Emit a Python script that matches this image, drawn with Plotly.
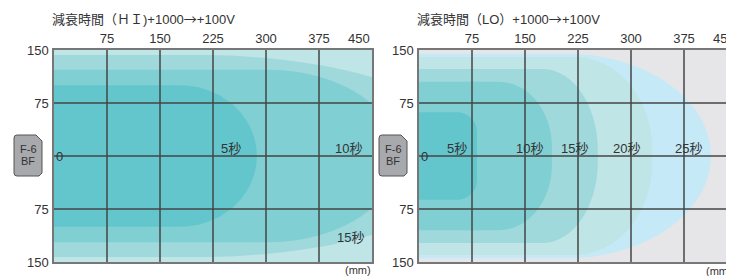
import numpy as np
import plotly.graph_objects as go

# page body margin offset (px)
OFF = 8
W, H = 734 - OFF, 276 - OFF

# ---- data ----
x_ticks = [75, 150, 225, 300, 375, 450]
x_tick_text = ["75", "150", "225", "300", "375", "450"]
y_ticks = [150, 75, -75, -150]
y_tick_text = ["150", "75", "75", "150"]
grid_y = [75, 0, -75]

# HI panel regions (outer -> inner), mm
hi_labels = ["15秒", "10秒", "5秒"]
hi_reach = [598, 487, 287]
hi_half = [143, 122, 100]
hi_rx = [395, 184, 109]
hi_ry = [143, 122, 100]
hi_label_x = [419, 417, 251]
hi_label_y = [-116, 11, 11]

# LO panel regions (outer -> inner), mm
lo_labels = ["25秒", "20秒", "15秒", "10秒", "5秒"]
lo_reach = [413, 330, 253, 188, 82]
lo_half = [145, 140, 123, 105, 62]
lo_rx = [206, 110, 78, 75, 28]
lo_ry = [145, 130, 115, 92, 28]
lo_label_x = [381, 294, 220, 157, 54]
lo_label_y = [11, 11, 11, 11, 11]

# ---- styles ----
hi_colors = ["#9fd9dc", "#80cfd3", "#63c6cd"]
lo_colors = ["#c6e9f7", "#c0e5e7", "#9fd9dc", "#80cfd3", "#63c6cd"]
HI_BG = "#c0e5e7"
LO_BG = "#e6e6e8"
GRID = "#444444"
TXT = "#333333"
FONT = "Liberation Sans, Noto Sans CJK JP, sans-serif"
ARROW = '<span style="font-family:Noto Sans CJK JP">→</span>'

def px_x(p):
    return (p - OFF) / W

def px_y(p):
    return 1 - (p - OFF) / H

def region(R, hh, rx, ry, n=60):
    cx = R - rx
    t1 = np.linspace(np.pi / 2, 0, n)
    t2 = np.linspace(0, -np.pi / 2, n)
    xs = [0] + list(cx + rx * np.cos(t1)) + list(cx + rx * np.cos(t2)) + [0]
    ys = [hh] + list((hh - ry) + ry * np.sin(t1)) + list(-(hh - ry) + ry * np.sin(t2)) + [-hh]
    return xs, ys

fig = go.Figure()

for R, hh, rx, ry, c in zip(hi_reach, hi_half, hi_rx, hi_ry, hi_colors):
    xs, ys = region(R, hh, rx, ry)
    fig.add_trace(go.Scatter(x=xs, y=ys, fill="toself", fillcolor=c, mode="none",
                             xaxis="x", yaxis="y", hoverinfo="skip", showlegend=False))
for R, hh, rx, ry, c in zip(lo_reach, lo_half, lo_rx, lo_ry, lo_colors):
    xs, ys = region(R, hh, rx, ry)
    fig.add_trace(go.Scatter(x=xs, y=ys, fill="toself", fillcolor=c, mode="none",
                             xaxis="x2", yaxis="y2", hoverinfo="skip", showlegend=False))

lo_xmax = (734 - 419) / 53 * 75
dom1 = [px_x(54), px_x(372)]
dom2 = [px_x(419), 1]

shapes = []
for xr, yr, xmax in (("x", "y", 450), ("x2", "y2", lo_xmax)):
    for xv in x_ticks:
        if 0 < xv < xmax:
            shapes.append(dict(type="line", xref=xr, yref=yr + " domain", x0=xv, x1=xv, y0=0, y1=1,
                               line=dict(color=GRID, width=1.5), layer="above"))
    for yv in grid_y:
        shapes.append(dict(type="line", xref=xr + " domain", yref=yr, x0=0, x1=1, y0=yv, y1=yv,
                           line=dict(color=GRID, width=1.5), layer="above"))

# F-6 BF sensor boxes
for bx in (14, 379):
    x0, x1, y0, y1 = bx, bx + 28, 135, 176
    path = (f"M {px_x(x0+3)},{px_y(y0)} L {px_x(x1-6)},{px_y(y0)} L {px_x(x1)},{px_y(y0+6)} "
            f"L {px_x(x1)},{px_y(y1-3)} L {px_x(x1-3)},{px_y(y1)} L {px_x(x0+3)},{px_y(y1)} "
            f"Q {px_x(x0)},{px_y(y1)} {px_x(x0)},{px_y(y1-3)} L {px_x(x0)},{px_y(y0+3)} "
            f"Q {px_x(x0)},{px_y(y0)} {px_x(x0+3)},{px_y(y0)} Z")
    shapes.append(dict(type="path", xref="paper", yref="paper", path=path,
                       fillcolor="#a8a9ac", line=dict(color="#555555", width=1)))

annotations = []
def note(x, y, text, size, xanchor="center", **kw):
    annotations.append(dict(x=x, y=y, xref="paper", yref="paper", text=text, showarrow=False,
                            xanchor=xanchor, yanchor="middle",
                            font=dict(size=size, color=TXT, family=FONT), **kw))

for bx in (14, 379):
    note(px_x(bx + 14), px_y(149), "F-6", 11)
    note(px_x(bx + 14), px_y(161), "BF", 11)

for lab, lx, ly in zip(hi_labels, hi_label_x, hi_label_y):
    annotations.append(dict(x=lx, y=ly, xref="x", yref="y", text=lab, showarrow=False,
                            xanchor="center", yanchor="middle",
                            font=dict(size=13, color=TXT, family=FONT)))
for lab, lx, ly in zip(lo_labels, lo_label_x, lo_label_y):
    annotations.append(dict(x=lx, y=ly, xref="x2", yref="y2", text=lab, showarrow=False,
                            xanchor="center", yanchor="middle",
                            font=dict(size=13, color=TXT, family=FONT)))

for xr, yr in (("x", "y"), ("x2", "y2")):
    annotations.append(dict(x=0, y=0, xref=xr, yref=yr, text="0", showarrow=False, xanchor="left",
                            yanchor="middle", font=dict(size=13, color=TXT, family=FONT)))

# last top label (450) sits right-aligned at the panel's 450 position
for dom, xmax in ((dom1, 450), (dom2, lo_xmax)):
    xp = dom[0] + x_ticks[-1] / xmax * (dom[1] - dom[0])
    annotations.append(dict(x=xp, y=px_y(50), xref="paper", yref="paper", text=x_tick_text[-1],
                            showarrow=False, xanchor="right", yanchor="bottom", yshift=2,
                            font=dict(size=13, color=TXT, family=FONT)))

note(px_x(50), px_y(18), "減衰時間（ＨＩ)+1000" + ARROW + "+100V", 13, xanchor="left")
note(px_x(415), px_y(18), "減衰時間（LO）+1000" + ARROW + "+100V", 13, xanchor="left")
note(px_x(373), px_y(270), "(mm)", 11, xanchor="right")
note(1, px_y(271), "(mm)", 11, xanchor="right")

ydom = [px_y(262), px_y(50)]
axfont = dict(size=13, color=TXT, family=FONT)
common = dict(showgrid=False, zeroline=False, showline=True, linecolor="#777777", linewidth=1.5,
              ticks="", tickfont=axfont, automargin=False, fixedrange=True)
fig.update_layout(
    width=W, height=H, margin=dict(l=0, r=0, t=0, b=0, autoexpand=False),
    paper_bgcolor="white", plot_bgcolor=HI_BG,
    xaxis=dict(domain=dom1, range=[0, 450], side="top", anchor="y",
               tickvals=x_ticks[:-1], ticktext=x_tick_text[:-1], mirror=True, **common),
    yaxis=dict(domain=ydom, range=[-150, 150], anchor="x", tickvals=y_ticks, ticktext=y_tick_text,
               mirror=True, ticklabelstandoff=1, **common),
    xaxis2=dict(domain=dom2, range=[0, lo_xmax], side="top", anchor="y2",
                tickvals=x_ticks[:-1], ticktext=x_tick_text[:-1], mirror=True, **common),
    yaxis2=dict(domain=ydom, range=[-150, 150], anchor="x2", tickvals=y_ticks, ticktext=y_tick_text,
                mirror=False, ticklabelstandoff=1, **common),
    shapes=shapes, annotations=annotations,
)
# second plot background
fig.add_shape(type="rect", xref="x2 domain", yref="y2 domain", x0=0, x1=1, y0=0, y1=1,
              fillcolor=LO_BG, line=dict(width=0), layer="below")

fig.write_html("out.html")
